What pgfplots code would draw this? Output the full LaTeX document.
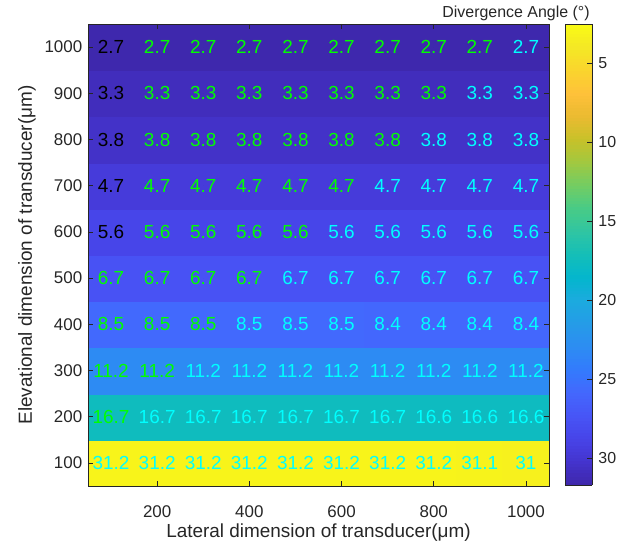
\documentclass[border=0pt]{standalone}
\usepackage{pgfplots}
\pgfplotsset{compat=1.18}
\usepackage{pgfplotstable}
\usepackage{fontspec}
\setmainfont{Liberation Sans}
\definecolor{axgray}{rgb}{0.15,0.15,0.15}
\definecolor{mgreen}{rgb}{0,1,0}
\definecolor{mcyan}{rgb}{0,1,1}
\definecolor{mblack}{rgb}{0,0,0}
\pgfplotsset{colormap={parula}{
rgb=(0.2422,0.1504,0.6603) rgb=(0.2661,0.2011,0.8043) rgb=(0.2794,0.2653,0.9094)
rgb=(0.2807,0.3313,0.9636) rgb=(0.2647,0.4030,0.9935) rgb=(0.2006,0.4803,0.9906)
rgb=(0.1764,0.5504,0.9516) rgb=(0.1461,0.6089,0.9080) rgb=(0.1085,0.6669,0.8734)
rgb=(0.0155,0.7133,0.8064) rgb=(0.0770,0.7468,0.7224) rgb=(0.1853,0.7721,0.6379)
rgb=(0.2809,0.7964,0.5266) rgb=(0.4463,0.8024,0.3904) rgb=(0.6297,0.7859,0.2521)
rgb=(0.7829,0.7579,0.1608) rgb=(0.9184,0.7308,0.1890) rgb=(0.9972,0.7569,0.2267)
rgb=(0.9807,0.8342,0.1787) rgb=(0.9595,0.9084,0.1450) rgb=(0.9769,0.9839,0.0805)}}
\pgfplotstableread{
x y z
100 100 31.2
200 100 31.2
300 100 31.2
400 100 31.2
500 100 31.2
600 100 31.2
700 100 31.2
800 100 31.2
900 100 31.1
1000 100 31.0
100 200 16.7
200 200 16.7
300 200 16.7
400 200 16.7
500 200 16.7
600 200 16.7
700 200 16.7
800 200 16.6
900 200 16.6
1000 200 16.6
100 300 11.2
200 300 11.2
300 300 11.2
400 300 11.2
500 300 11.2
600 300 11.2
700 300 11.2
800 300 11.2
900 300 11.2
1000 300 11.2
100 400 8.5
200 400 8.5
300 400 8.5
400 400 8.5
500 400 8.5
600 400 8.5
700 400 8.4
800 400 8.4
900 400 8.4
1000 400 8.4
100 500 6.7
200 500 6.7
300 500 6.7
400 500 6.7
500 500 6.7
600 500 6.7
700 500 6.7
800 500 6.7
900 500 6.7
1000 500 6.7
100 600 5.6
200 600 5.6
300 600 5.6
400 600 5.6
500 600 5.6
600 600 5.6
700 600 5.6
800 600 5.6
900 600 5.6
1000 600 5.6
100 700 4.7
200 700 4.7
300 700 4.7
400 700 4.7
500 700 4.7
600 700 4.7
700 700 4.7
800 700 4.7
900 700 4.7
1000 700 4.7
100 800 3.8
200 800 3.8
300 800 3.8
400 800 3.8
500 800 3.8
600 800 3.8
700 800 3.8
800 800 3.8
900 800 3.8
1000 800 3.8
100 900 3.3
200 900 3.3
300 900 3.3
400 900 3.3
500 900 3.3
600 900 3.3
700 900 3.3
800 900 3.3
900 900 3.3
1000 900 3.3
100 1000 2.7
200 1000 2.7
300 1000 2.7
400 1000 2.7
500 1000 2.7
600 1000 2.7
700 1000 2.7
800 1000 2.7
900 1000 2.7
1000 1000 2.7
}\datatable
% cell labels shown in black
\pgfplotstableread{
x y lab
100 600 5.6
100 700 4.7
100 800 3.8
100 900 3.3
100 1000 2.7
}\blktable
% cell labels shown in green
\pgfplotstableread{
x y lab
100 200 16.7
100 300 11.2
200 300 11.2
100 400 8.5
200 400 8.5
300 400 8.5
100 500 6.7
200 500 6.7
300 500 6.7
400 500 6.7
200 600 5.6
300 600 5.6
400 600 5.6
500 600 5.6
200 700 4.7
300 700 4.7
400 700 4.7
500 700 4.7
600 700 4.7
200 800 3.8
300 800 3.8
400 800 3.8
500 800 3.8
600 800 3.8
700 800 3.8
200 900 3.3
300 900 3.3
400 900 3.3
500 900 3.3
600 900 3.3
700 900 3.3
800 900 3.3
200 1000 2.7
300 1000 2.7
400 1000 2.7
500 1000 2.7
600 1000 2.7
700 1000 2.7
800 1000 2.7
900 1000 2.7
}\grntable
% cell labels shown in cyan
\pgfplotstableread{
x y lab
100 100 31.2
200 100 31.2
300 100 31.2
400 100 31.2
500 100 31.2
600 100 31.2
700 100 31.2
800 100 31.2
900 100 31.1
1000 100 31
200 200 16.7
300 200 16.7
400 200 16.7
500 200 16.7
600 200 16.7
700 200 16.7
800 200 16.6
900 200 16.6
1000 200 16.6
300 300 11.2
400 300 11.2
500 300 11.2
600 300 11.2
700 300 11.2
800 300 11.2
900 300 11.2
1000 300 11.2
400 400 8.5
500 400 8.5
600 400 8.5
700 400 8.4
800 400 8.4
900 400 8.4
1000 400 8.4
500 500 6.7
600 500 6.7
700 500 6.7
800 500 6.7
900 500 6.7
1000 500 6.7
600 600 5.6
700 600 5.6
800 600 5.6
900 600 5.6
1000 600 5.6
700 700 4.7
800 700 4.7
900 700 4.7
1000 700 4.7
800 800 3.8
900 800 3.8
1000 800 3.8
900 900 3.3
1000 900 3.3
1000 1000 2.7
}\cyntable
\pgfplotsset{celltext/.style={only marks, mark=*, mark size=0pt,
  mark options={draw=none, fill=none},
  nodes near coords, point meta=explicit symbolic,
  nodes near coords align={center},
  every node near coord/.append style={text=#1, font=\fontsize{19}{22}\selectfont, inner sep=0pt}}}
\begin{document}
\begin{tikzpicture}
\begin{axis}[
  name=main, at={(0,0)}, anchor=south west,
  scale only axis, width=461bp, height=462bp,
  xmin=50, xmax=1050, ymin=50, ymax=1050,
  xtick={200,400,...,1000}, ytick={100,200,...,1000},
  scaled ticks=false,
  /pgf/number format/1000 sep={},
  /pgf/number format/assume math mode=true,
  tick align=inside, major tick length=5bp,
  axis line style={draw=axgray, line width=0.8bp},
  every tick/.style={draw=axgray, line width=0.6bp},
  tick label style={font=\fontsize{17}{20}\selectfont, text=axgray},
  xticklabel style={anchor=base, yshift=-31bp},
  yticklabel style={anchor=east, xshift=-2.3bp},
  xlabel={Lateral dimension of transducer(μm)},
  ylabel={Elevational dimension of transducer(μm)},
  label style={font=\fontsize{19}{22}\selectfont, text=axgray},
  xlabel style={at={(axis description cs:0.5,0)}, anchor=base, yshift=-51bp},
  ylabel style={at={(axis description cs:-0.1215,0.5)}, anchor=base},
  colormap name=parula,
  point meta min=2.53, point meta max=31.72,
  clip marker paths=true,
  axis on top,
  colorbar sampled,
  colorbar style={
    samples=150,
    at={(parent axis.north east)}, anchor=north west, xshift=7.7bp,
    scale only axis, width=27bp, height=461bp,
    ytick={4.25,9.25,14.25,19.25,24.25,29.25},
    yticklabels={30,25,20,15,10,5},
    ytick pos=right, yticklabel pos=right,
    tick align=inside, major tick length=5bp,
    axis line style={draw=axgray, line width=0.8bp},
    every tick/.style={draw=axgray, line width=0.6bp},
    yticklabel style={font=\fontsize{16}{19}\selectfont, text=axgray, anchor=west, xshift=2.7bp},
    title={Divergence Angle (°)},
    title style={at={(1,1)}, anchor=base east, yshift=1bp, xshift=1bp, font=\fontsize{16}{19}\selectfont, text=axgray},
  },
]
\addplot[scatter, only marks, mark=square*, mark size=23.3bp, point meta=explicit,
  scatter/use mapped color={draw=mapped color, fill=mapped color}]
  table[x=x, y=y, meta=z] {\datatable};
\addplot[celltext=mblack] table[x=x, y=y, meta=lab] {\blktable};
\addplot[celltext=mgreen] table[x=x, y=y, meta=lab] {\grntable};
\addplot[celltext=mcyan] table[x=x, y=y, meta=lab] {\cyntable};
\end{axis}
\pgfresetboundingbox
\useasboundingbox (main.south west) ++(-88bp,-57bp) rectangle ++(634bp,543bp);
\end{tikzpicture}
\end{document}
